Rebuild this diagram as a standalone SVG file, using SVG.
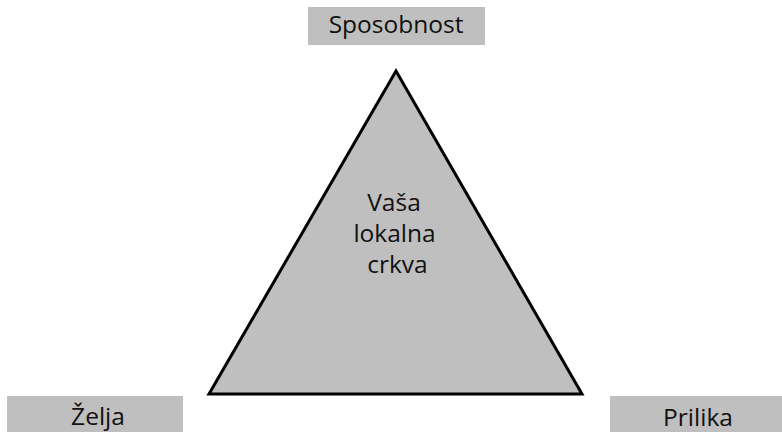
<svg xmlns="http://www.w3.org/2000/svg" width="782" height="432" viewBox="0 0 782 432">
<style>
.box{fill:#bfbfbf;stroke:none}
.lbl{font-family:"Open Sans","Noto Sans","Liberation Sans",sans-serif;font-size:24.5px;fill:#111;text-anchor:middle}
.tri{fill:#bfbfbf;stroke:#000;stroke-width:3;stroke-linejoin:miter}
</style>
<rect width="782" height="432" fill="#fff"/>
<g id="triangle">
<polygon class="tri" points="396,71 209,394 582,394"/>
<text class="lbl" x="394" y="211">Vaša</text>
<text class="lbl" x="394.5" y="242">lokalna</text>
<text class="lbl" x="397.5" y="273">crkva</text>
</g>
<g id="sposobnost">
<rect class="box" x="308" y="7" width="177" height="38"/>
<text class="lbl" x="396" y="33">Sposobnost</text>
</g>
<g id="zelja">
<rect class="box" x="7" y="396" width="176" height="36"/>
<text class="lbl" x="98" y="425">Želja</text>
</g>
<g id="prilika">
<rect class="box" x="610" y="396" width="172" height="36"/>
<text class="lbl" x="698" y="426">Prilika</text>
</g>
<g id="connectors"></g>
</svg>
